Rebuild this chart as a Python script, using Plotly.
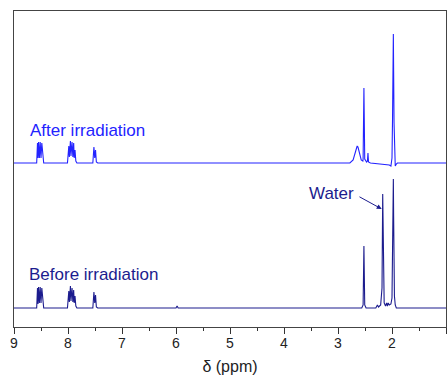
import plotly.graph_objects as go

# ---- data (intensity above baseline, arbitrary units ~ px) ----
before_ppm = [9.0, 8.58, 8.565, 8.555, 8.545, 8.53, 8.515, 8.50, 8.485, 8.465, 8.45, 8.43,
              8.01, 7.985, 7.975, 7.955, 7.945, 7.925, 7.91, 7.895, 7.885, 7.87, 7.855, 7.835, 7.82,
              7.54, 7.52, 7.505, 7.49, 7.475, 7.45,
              6.0, 5.98, 5.96,
              2.56, 2.535, 2.52, 2.505, 2.48,
              2.30, 2.27, 2.25, 2.21, 2.185, 2.172, 2.16, 2.145, 2.12, 2.10, 2.085, 2.07, 2.05,
              2.02, 2.0, 1.99, 1.982, 1.975, 1.97, 1.962, 1.955, 1.94, 1.92, 1.90, 1.0]
before_int = [0, 0, 20, 4, 21, 5, 21, 5, 20, 3, 0, 0,
              0, 17, 6, 22, 7, 20, 6, 18, 5, 12, 2, 0, 0,
              0, 16, 5, 13, 1, 0,
              0, 2, 0,
              0, 3, 62, 3, 0,
              0, 3, 1, 3, 20, 114, 18, 5, 2, 5, 2, 5, 3,
              4, 10, 45, 93, 129, 93, 40, 12, 3, 0, 0, 0]

after_ppm = [9.0, 8.58, 8.565, 8.555, 8.545, 8.53, 8.515, 8.50, 8.485, 8.465, 8.45, 8.43,
             8.01, 7.985, 7.975, 7.955, 7.945, 7.925, 7.91, 7.895, 7.885, 7.87, 7.855, 7.835, 7.82,
             7.54, 7.52, 7.505, 7.49, 7.475, 7.45,
             2.78, 2.72, 2.68, 2.66, 2.645, 2.63, 2.60, 2.57, 2.54, 2.535, 2.52, 2.505,
             2.47, 2.455, 2.445, 2.435, 2.40,
             2.05, 2.02, 2.0, 1.99, 1.982, 1.975, 1.97, 1.962, 1.955, 1.94, 1.92, 1.90, 1.0]
after_int = [0, 0, 20, 5, 21, 5, 21, 5, 20, 3, 0, 0,
             0, 17, 6, 22, 7, 21, 6, 20, 5, 13, 2, 0, 0,
             0, 16, 5, 13, 1, 0,
             0, 3, 10, 15, 17, 16, 9, 3, 2, 4, 75, 4,
             1, 2, 10, 1, 0,
             -2, -3, 5, 45, 93, 129, 93, 40, 10, -3, -1, 0, 0]

x_ticks = [9, 8, 7, 6, 5, 4, 3, 2, 1]
x_tick_labels = ["9", "8", "7", "6", "5", "4", "3", "2", "1"]

BEFORE_OFFSET = 19
AFTER_OFFSET = 164
BEFORE_COLOR = "#1c1c8e"
AFTER_COLOR = "#2323ff"

fig = go.Figure()
fig.add_trace(go.Scatter(x=before_ppm, y=[v + BEFORE_OFFSET for v in before_int],
                         mode="lines", line=dict(color=BEFORE_COLOR, width=1.1),
                         showlegend=False, hoverinfo="skip"))
fig.add_trace(go.Scatter(x=after_ppm, y=[v + AFTER_OFFSET for v in after_int],
                         mode="lines", line=dict(color=AFTER_COLOR, width=1.1),
                         showlegend=False, hoverinfo="skip"))

font_family = "Liberation Sans, Arial, sans-serif"

fig.add_annotation(x=8.74, y=197, xref="x", yref="y", text="After irradiation",
                   showarrow=False, xanchor="left", yanchor="middle",
                   font=dict(family=font_family, size=17, color=AFTER_COLOR))
fig.add_annotation(x=8.765, y=53, xref="x", yref="y", text="Before irradiation",
                   showarrow=False, xanchor="left", yanchor="middle",
                   font=dict(family=font_family, size=17, color=BEFORE_COLOR))
fig.add_annotation(x=2.67, y=134, xref="x", yref="y", text="Water",
                   showarrow=False, xanchor="right", yanchor="middle",
                   font=dict(family=font_family, size=17, color=BEFORE_COLOR))
fig.add_annotation(x=2.19, y=118, ax=2.63, ay=131, xref="x", yref="y", axref="x", ayref="y",
                   text="", showarrow=True, arrowhead=2, arrowsize=1, arrowwidth=1,
                   arrowcolor=BEFORE_COLOR)

fig.update_layout(
    width=448, height=381,
    margin=dict(l=14, r=2, t=11, b=54, autoexpand=False),
    plot_bgcolor="white", paper_bgcolor="white",
    font=dict(family=font_family, color="#222222"),
    xaxis=dict(range=[9, 1], tickvals=x_ticks, ticktext=x_tick_labels,
               automargin=False,
               ticks="outside", ticklen=6, tickwidth=1, tickcolor="#333333",
               ticklabelstandoff=-3,
               minor=dict(dtick=0.5, ticks="outside", ticklen=3, tickcolor="#333333"),
               showline=True, linecolor="#444444", linewidth=1.2, mirror=True,
               showgrid=False, zeroline=False,
               tickfont=dict(size=14, color="#222222"),
               title=dict(text="δ (ppm)", font=dict(size=16, color="#222222"), standoff=10)),
    yaxis=dict(range=[0, 316], showticklabels=False, ticks="", automargin=False,
               showline=True, linecolor="#444444", linewidth=1.2, mirror=True,
               showgrid=False, zeroline=False),
)

fig.write_html("out.html", config={"displayModeBar": False},
               post_script="document.body.style.margin='0';document.body.style.overflow='hidden';")
